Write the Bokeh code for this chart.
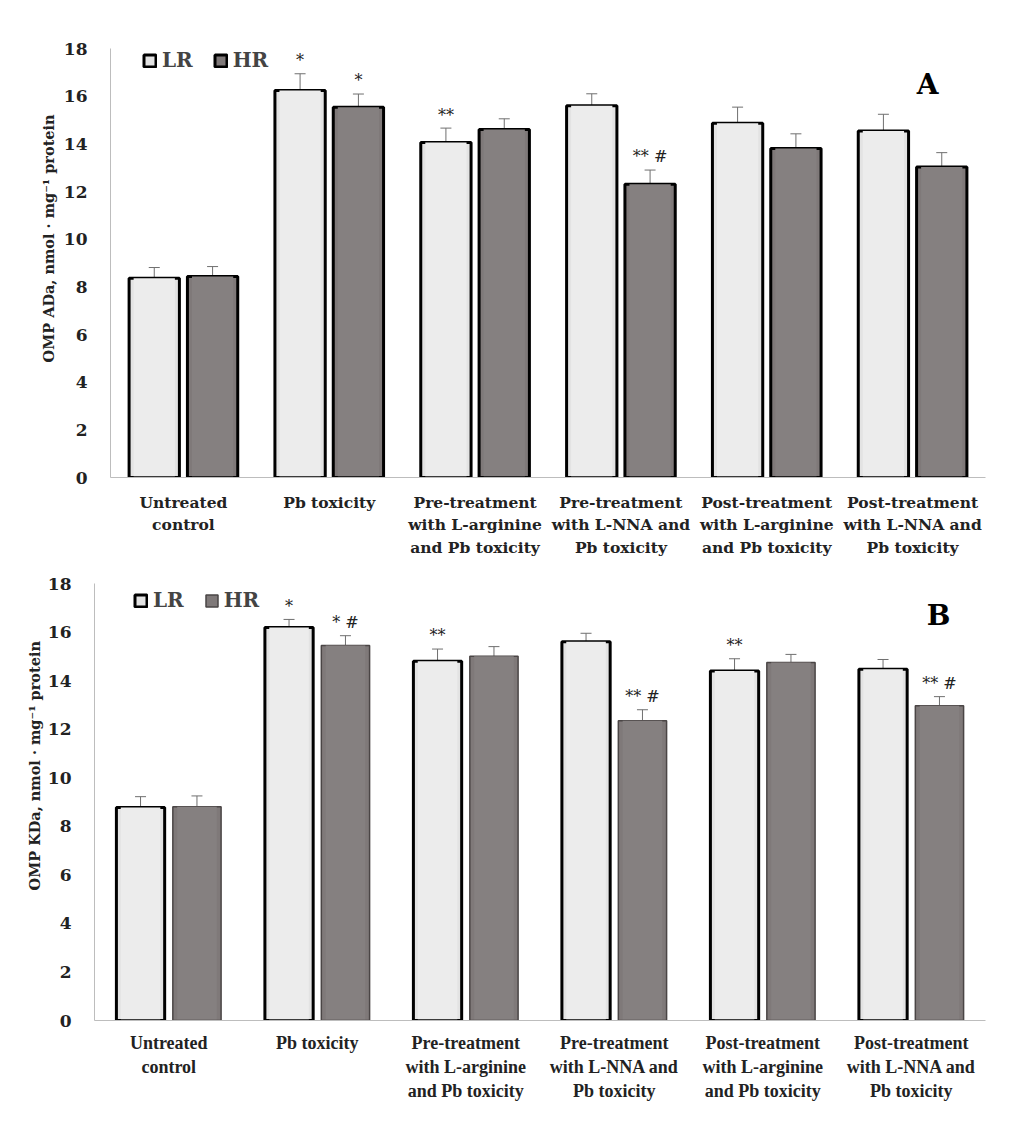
from bokeh.plotting import figure
from bokeh.models import (FactorRange, Range1d, ColumnDataSource, Whisker, TeeHead,
                          Legend, LegendItem, Label, Title)
from bokeh.transform import dodge
from bokeh.embed import file_html
from bokeh.resources import INLINE
from bokeh.core.properties import value

categories = ["Untreated\ncontrol", "Pb toxicity",
              "Pre-treatment\nwith L-arginine\nand Pb toxicity",
              "Pre-treatment\nwith L-NNA and\nPb toxicity",
              "Post-treatment\nwith L-arginine\nand Pb toxicity",
              "Post-treatment\nwith L-NNA and\nPb toxicity"]
series = ["LR", "HR"]

a_lr = [8.36, 16.24, 14.06, 15.60, 14.86, 14.54]
a_lr_err = [0.45, 0.70, 0.60, 0.50, 0.68, 0.70]
a_hr = [8.43, 15.54, 14.60, 12.30, 13.80, 13.03]
a_hr_err = [0.42, 0.55, 0.45, 0.60, 0.62, 0.60]
a_lr_sig = ["", "*", "**", "", "", ""]
a_hr_sig = ["", "*", "", "** #", "", ""]

b_lr = [8.77, 16.19, 14.80, 15.60, 14.40, 14.47]
b_lr_err = [0.45, 0.33, 0.50, 0.35, 0.50, 0.40]
b_hr = [8.80, 15.45, 15.00, 12.35, 14.75, 12.96]
b_hr_err = [0.45, 0.40, 0.40, 0.45, 0.33, 0.38]
b_lr_sig = ["", "*", "**", "", "**", ""]
b_hr_sig = ["", "* #", "", "** #", "", "** #"]

y_ticks = [0, 2, 4, 6, 8, 10, 12, 14, 16, 18]

LR_FILL = "#e3e3e3"
HR_FILL = "#7f7979"
AXIS_GRAY = "#bdbdbd"
ERR_GRAY = "#6f6f6f"


def make_panel(lr, lr_err, hr, hr_err, lr_sig, hr_sig, ytitle, letter, *,
               height, bl, bt, bb, bar_w, off, hr_outline, cat_font, cat_size,
               cat_standoff, title_offset, title_standoff, letter_xy, legend_xy):
    p = figure(x_range=FactorRange(*categories), y_range=Range1d(0, 18),
               width=1000, height=height, output_backend="svg",
               toolbar_location=None, min_border_left=bl, min_border_right=15,
               min_border_top=bt, min_border_bottom=bb)
    p.outline_line_color = None
    p.xgrid.grid_line_color = None
    p.ygrid.grid_line_color = None
    p.background_fill_color = "white"

    src = ColumnDataSource(dict(
        cat=categories, lr=lr, hr=hr,
        lr_up=[v + e for v, e in zip(lr, lr_err)],
        lr_lo=[v - e for v, e in zip(lr, lr_err)],
        hr_up=[v + e for v, e in zip(hr, hr_err)],
        hr_lo=[v - e for v, e in zip(hr, hr_err)],
        lr_sig_y=[v + e + 0.15 for v, e in zip(lr, lr_err)],
        hr_sig_y=[v + e + 0.15 for v, e in zip(hr, hr_err)],
        lr_sig=lr_sig, hr_sig=hr_sig,
    ))

    r_lr = p.vbar(x=dodge("cat", -off, range=p.x_range), top="lr", width=bar_w,
                  source=src, fill_color=LR_FILL, line_color="black", line_width=3)
    r_hr = p.vbar(x=dodge("cat", off, range=p.x_range), top="hr", width=bar_w,
                  source=src, fill_color=HR_FILL,
                  line_color="black" if hr_outline else "#4a4545",
                  line_width=3 if hr_outline else 1.5)
    # bevel highlights
    p.vbar(x=dodge("cat", -off, range=p.x_range), top="lr", bottom=0.05, width=bar_w * 0.82,
           source=src, fill_color="#ececec", line_color=None)
    p.vbar(x=dodge("cat", off, range=p.x_range), top="hr", bottom=0.05, width=bar_w * 0.82,
           source=src, fill_color="#858080", line_color=None)

    for base, up, lo in ((dodge("cat", -off, range=p.x_range), "lr_up", "lr_lo"),
                         (dodge("cat", off, range=p.x_range), "hr_up", "hr_lo")):
        w = Whisker(base=base, upper=up, lower=lo, source=src,
                    line_color=ERR_GRAY, line_width=1,
                    upper_head=TeeHead(size=11, line_color=ERR_GRAY, line_width=1),
                    lower_head=TeeHead(size=11, line_color=ERR_GRAY, line_width=1))
        p.add_layout(w)

    for xoff, ycol, tcol in ((-off, "lr_sig_y", "lr_sig"), (off, "hr_sig_y", "hr_sig")):
        p.text(x=dodge("cat", xoff, range=p.x_range), y=ycol, text=tcol, source=src,
               text_align="center", text_baseline="bottom",
               text_font=value("DejaVu Serif"), text_font_size="16px",
               text_color="#222222")

    legend = Legend(items=[LegendItem(label=series[0], renderers=[r_lr]),
                           LegendItem(label=series[1], renderers=[r_hr])],
                    orientation="horizontal", location=legend_xy,
                    label_text_font="DejaVu Serif", label_text_font_style="bold",
                    label_text_font_size="20px", glyph_width=15, glyph_height=15,
                    label_standoff=5, spacing=20, padding=0, margin=0,
                    border_line_color=None, background_fill_alpha=0)
    p.add_layout(legend)

    p.add_layout(Label(x=letter_xy[0], y=letter_xy[1], x_units="screen", y_units="screen",
                       text=letter, text_font="DejaVu Serif", text_font_style="bold",
                       text_font_size="28px", text_align="center", text_baseline="middle",
                       text_color="black"))

    ya = p.yaxis[0]
    ya.ticker = y_ticks
    ya.axis_line_color = AXIS_GRAY
    ya.major_tick_line_color = None
    ya.minor_tick_line_color = None
    ya.major_label_text_font = "DejaVu Serif"
    ya.major_label_text_font_style = "bold"
    ya.major_label_text_font_size = "17px"
    ya.major_label_text_color = "#222222"
    ya.major_label_standoff = 17

    # y-axis title as a side title so it can be shifted along the axis
    p.add_layout(Title(text=ytitle, align="left", offset=title_offset,
                       standoff=title_standoff, text_font="DejaVu Serif",
                       text_font_style="bold", text_font_size="14.5px",
                       text_color="#222222"), "left")

    xa = p.xaxis[0]
    xa.axis_line_color = AXIS_GRAY
    xa.major_tick_line_color = None
    xa.minor_tick_line_color = None
    xa.major_label_text_font = cat_font
    xa.major_label_text_font_style = "bold"
    xa.major_label_text_font_size = cat_size
    xa.major_label_text_color = "#222222"
    xa.major_label_standoff = cat_standoff
    return p


pA = make_panel(a_lr, a_lr_err, a_hr, a_hr_err, a_lr_sig, a_hr_sig,
                "OMP ADa, nmol · mg⁻¹ protein", "A",
                height=560, bl=110, bt=48, bb=82, bar_w=0.345, off=0.2,
                hr_outline=True, cat_font="DejaVu Serif", cat_size="15.5px",
                cat_standoff=9, title_offset=115, title_standoff=8,
                letter_xy=(817, 393), legend_xy=(32, 405))
pB = make_panel(b_lr, b_lr_err, b_hr, b_hr_err, b_lr_sig, b_hr_sig,
                "OMP KDa, nmol · mg⁻¹ protein", "B",
                height=570, bl=94, bt=23, bb=110, bar_w=0.325, off=0.19,
                hr_outline=False, cat_font="Liberation Serif", cat_size="18px",
                cat_standoff=6, title_offset=130, title_standoff=4,
                letter_xy=(844, 405), legend_xy=(39, 408))

open("out.html", "w").write(file_html([pA, pB], INLINE))
